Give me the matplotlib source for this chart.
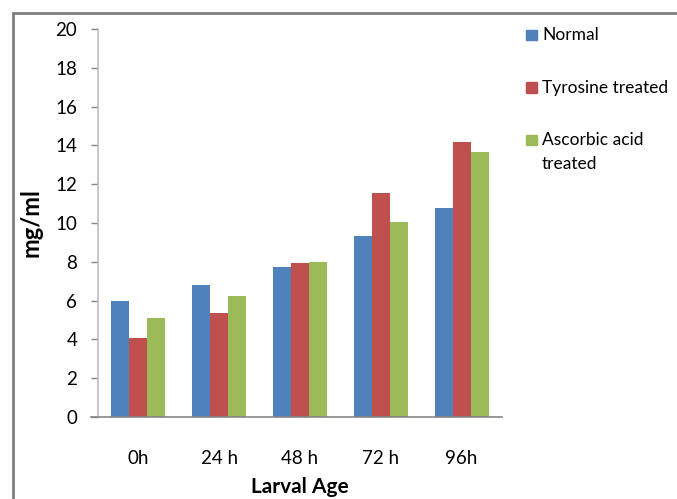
import numpy as np
import matplotlib
matplotlib.use('Agg')
import matplotlib.pyplot as plt
from matplotlib.patches import Rectangle

plt.rcParams['font.family'] = ['Lato', 'DejaVu Sans']

# larval age groups and measured concentration (mg/ml)
ages = ['0h', '24 h', '48 h', '72 h', '96h']
series = ['Normal', 'Tyrosine treated', 'Ascorbic acid\ntreated']
normal = [6.0, 6.8, 7.73, 9.33, 10.77]
tyrosine = [4.05, 5.36, 7.94, 11.55, 14.2]
ascorbic = [5.1, 6.24, 7.99, 10.05, 13.66]
colors = ['#4F81BD', '#C0504D', '#9BBB59']

fig = plt.figure(figsize=(6.77, 4.99), dpi=100)
ax = fig.add_axes([0.1448, 0.1643, 0.5967, 0.7776])

x = np.arange(len(ages))
w = 0.223
for i, (vals, c) in enumerate(zip([normal, tyrosine, ascorbic], colors)):
    ax.bar(x + (i - 1) * w, vals, width=w, color=c, linewidth=0)

ax.set_xlim(-0.5, len(ages) - 0.5)
ax.set_ylim(0, 20)
ax.set_yticks(range(0, 21, 2))
ax.set_xticks(x)
ax.set_xticklabels(ages)

for s in ['top', 'right']:
    ax.spines[s].set_visible(False)
ax.spines['left'].set_color('#BFBFBF')
ax.spines['left'].set_linewidth(1.2)
ax.spines['bottom'].set_color('#868686')
ax.spines['bottom'].set_linewidth(1.2)
ax.spines['bottom'].set_bounds(-0.5 - 0.09, len(ages) - 0.5)

ax.tick_params(axis='y', direction='out', length=5, width=1, color='#868686',
               labelsize=13.5, pad=10, colors='#868686', labelcolor='black')
ax.tick_params(axis='x', length=0, labelsize=13.5, pad=24)

ax.set_xlabel('Larval Age', fontsize=15, fontweight='bold', labelpad=7)
ax.set_ylabel('mg/ml', fontsize=17, fontweight='bold', labelpad=9)

# legend on the right, square aligned with the first text line
for i, (name, c) in enumerate(zip(series, colors)):
    y = 1 - (35 + 52.5 * i) / 499
    fig.patches.append(Rectangle((526 / 677, y - 5 / 499), 11 / 677, 10 / 499,
                                 transform=fig.transFigure, color=c))
    fig.text(542 / 677, y + 8 / 499, name, fontsize=12.5, va='top',
             linespacing=1.6)

# outer frame
fig.patches.append(Rectangle((13 / 677, -0.1), 1.2, 1 - 13 / 499 + 0.1,
                             transform=fig.transFigure, fill=False,
                             edgecolor='#808080', linewidth=2))

fig.savefig('out.png', dpi=100)
